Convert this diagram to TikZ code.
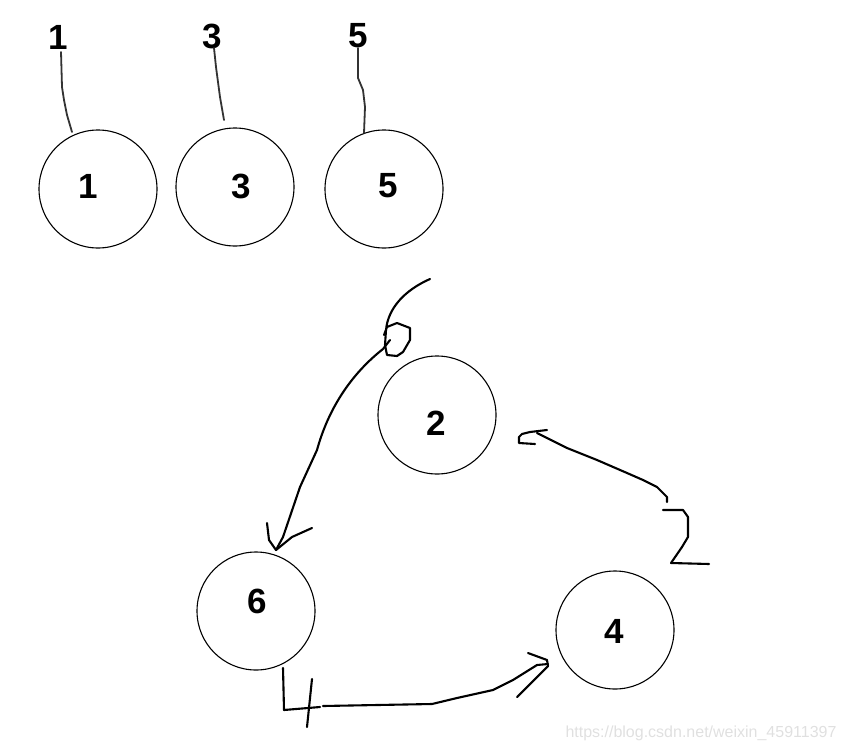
\documentclass[tikz,border=0pt]{standalone}
\usepackage{fontspec}
\setmainfont{Liberation Sans}
\begin{document}
\begin{tikzpicture}[x=1pt,y=-1pt,
  ring/.style={draw=black,line width=1.1pt,circle,minimum size=118pt,inner sep=0pt},
  num/.style={font=\fontsize{35}{35}\selectfont\bfseries,inner sep=0pt},
  pen/.style={draw=black,line width=2.1pt,line cap=round,line join=round},
  tag/.style={draw=black!80,line width=1.8pt,line cap=round,line join=round}]
\useasboundingbox (0,0) rectangle (845,752);
% circles
\node[ring] (c1) at (98,189) {};
\node[ring] (c3) at (235,187) {};
\node[ring] (c5) at (384,189) {};
\node[ring] (c2) at (437,415) {};
\node[ring] (c6) at (256,611) {};
\node[ring] (c4) at (615,630) {};
% numbers inside circles
\node[num] (n1) at (88,186) {1};
\node[num] (n3) at (241,186) {3};
\node[num] (n5) at (388,186) {5};
\node[num] (n2) at (436,423) {2};
\node[num] (n6) at (257,601) {6};
\node[num] (n4) at (614,631) {4};
% labels on top
\node[num] (t1) at (58,37) {1};
\node[num] (t3) at (212,36) {3};
\node[num] (t5) at (358,36) {5};
% hand lines from labels
\draw[tag] (61,52) -- (62,87) -- (64,100) -- (67,115) -- (72,132);
\draw[tag] (214,48) -- (216,67) -- (220,97) -- (224,120);
\draw[tag] (358,48) -- (358,78) -- (363,90) -- (365,107) -- (364,133);
% arrow with "6" from top to circle 6
\draw[pen] (430,279) .. controls (405,290) and (388,308) .. (386,330)
  -- (385,345) -- (387,355) -- (397,356) -- (403,352) -- (410,340) -- (410,328) -- (397,323) -- (387,327) -- (384,335);
\draw[pen] (390,340) -- (383,349) .. controls (350,375) and (328,410) .. (317,450)
  -- (300,487) -- (283,537) -- (276,550);
\draw[pen] (267,523) -- (269,540) -- (276,550) -- (292,537) -- (312,528);
% arrow with "2" from circle 4 to circle 2
\draw[pen] (667,502) -- (667,497) -- (657,487) -- (643,480) -- (627,473) -- (597,460) -- (567,448) -- (537,433);
\draw[pen] (547,430) -- (530,432) -- (522,434) -- (519,437) -- (519,443) -- (535,444);
\draw[pen] (663,510) -- (683,510) -- (688,517) -- (688,537) -- (682,547) -- (671,563) -- (709,564);
% arrow with "4" from circle 6 to circle 4
\draw[pen] (283,668) -- (284,710) -- (320,707);
\draw[pen] (312,679) -- (307,727);
\draw[pen] (323,706) -- (432,704) -- (457,698) -- (493,690) -- (513,680) -- (537,665) -- (548,664);
\draw[pen] (528,653) -- (547,660) -- (548,666) -- (517,697);
% watermark
\node[font=\fontsize{16}{16}\selectfont,text=black!12,inner sep=0pt] (wm) at (701,733) {https://blog.csdn.net/weixin\_45911397};
\end{tikzpicture}
\end{document}
